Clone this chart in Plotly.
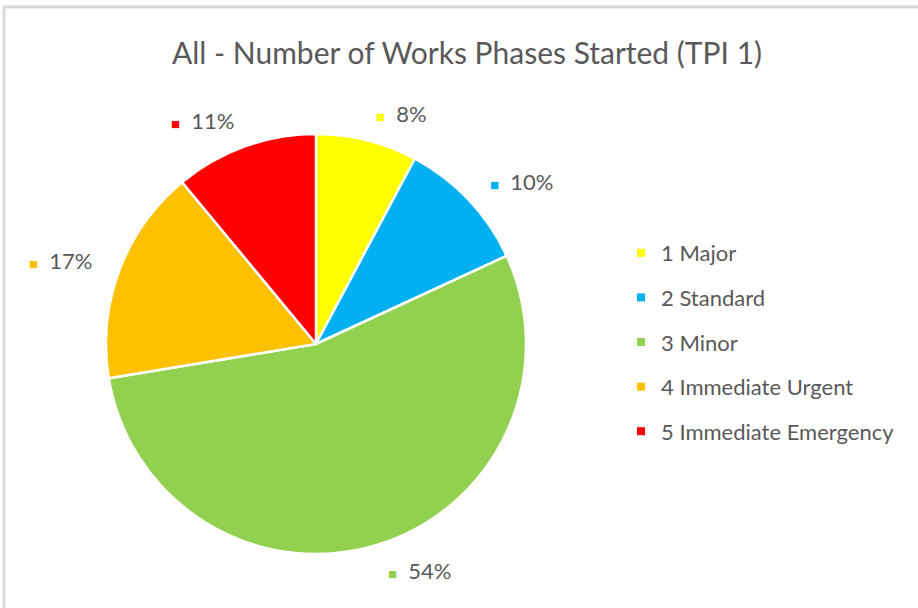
import math
import plotly.graph_objects as go

# ---- data ----
categories = ["1 Major", "2 Standard", "3 Minor", "4 Immediate Urgent", "5 Immediate Emergency"]
shares = [7.8, 10.3, 54.3, 16.6, 11.0]
colors = ["#FFFF00", "#00B0F0", "#92D050", "#FFC000", "#FF0000"]
title_text = "All - Number of Works Phases Started (TPI 1)"

# ---- geometry (pixels) ----
W, H = 918, 608
CX, CY, R = 316, 344, 210
LABEL_R = 1.14
FONT = "Lato, 'Open Sans', sans-serif"
TXT = "#595959"

dom_x = [(CX - R) / W, (CX + R) / W]
dom_y = [(H - CY - R) / H, (H - CY + R) / H]

fig = go.Figure()
fig.add_trace(go.Pie(
    labels=categories, values=shares,
    marker=dict(colors=colors, line=dict(color="white", width=2.5)),
    sort=False, direction="clockwise", rotation=0,
    textinfo="none", showlegend=False,
    domain=dict(x=dom_x, y=dom_y),
))

# data labels, placed from each slice's mid-angle
total = sum(shares)
cum = 0.0
annotations = []
for v, c in zip(shares, colors):
    mid = (cum + v / 2) / total * 2 * math.pi
    cum += v
    px = CX + LABEL_R * 208 * math.sin(mid)
    py = CY - LABEL_R * 208 * math.cos(mid)
    pct = round(v / total * 100)
    annotations.append(dict(
        x=px / W, y=1 - py / H, xref="paper", yref="paper",
        text=f'<span style="color:{c};font-size:15px">■</span>  {pct}%',
        showarrow=False, xanchor="left" if math.sin(mid) > 0 else "right",
        yanchor="middle", font=dict(family=FONT, size=22, color=TXT),
    ))

# legend entries
for name, c in zip(categories, colors):
    fig.add_trace(go.Scatter(
        x=[None], y=[None], mode="markers", name=name, legendgroup=name,
        marker=dict(symbol="square", size=8, color=c),
    ))

fig.update_layout(
    width=W, height=H,
    margin=dict(l=0, r=0, t=0, b=0),
    paper_bgcolor="white", plot_bgcolor="white",
    font=dict(family=FONT, color=TXT),
    title=dict(text=title_text, x=467 / W, xanchor="center", y=1 - 53 / H, yanchor="middle",
               font=dict(family=FONT, size=30, color=TXT)),
    xaxis=dict(visible=False), yaxis=dict(visible=False),
    legend=dict(x=621 / W, xanchor="left", y=1 - 342 / H, yanchor="middle",
                font=dict(family=FONT, size=22, color=TXT),
                tracegroupgap=13, bgcolor="rgba(0,0,0,0)"),
    annotations=annotations,
    shapes=[dict(type="rect", xref="paper", yref="paper",
                 x0=4 / W, x1=1.05, y0=-0.05, y1=1 - 7 / H,
                 line=dict(color="#D9D9D9", width=3))],
)

fig.write_html("out.html", config={"displayModeBar": False},
               post_script="document.body.style.margin='0';")
